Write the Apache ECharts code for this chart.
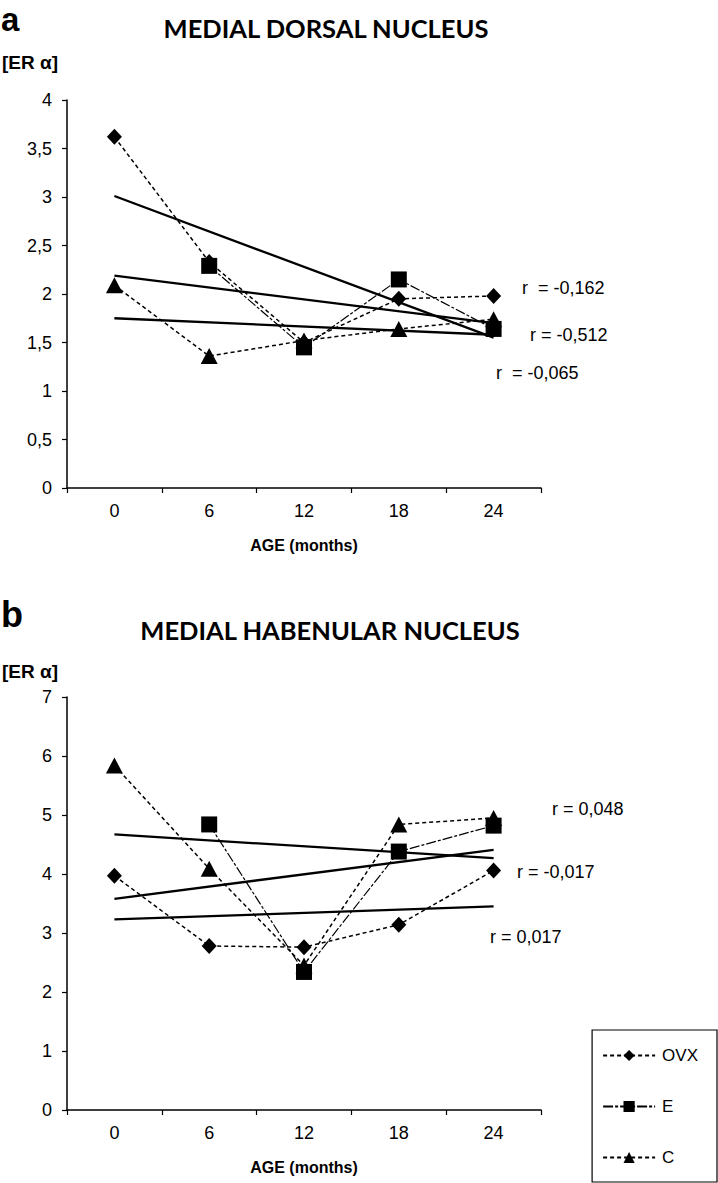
<!DOCTYPE html>
<html>
<head>
<meta charset="utf-8">
<script src="https://cdn.jsdelivr.net/npm/echarts@6/dist/echarts.min.js"></script>
<style>
html,body{margin:0;padding:0;background:#fff;}
#chart{width:718px;height:1183px;}
</style>
</head>
<body>
<div id="chart"></div>
<script>
// ---- data ----
const categories = ['0', '6', '12', '18', '24'];
const seriesNames = ['OVX', 'E', 'C'];

// panel a: medial dorsal nucleus
const dorsalOVX = [3.62, 2.33, 1.50, 1.95, 1.98];
const dorsalE   = [null, 2.29, 1.45, 2.15, 1.64];
const dorsalC   = [2.09, 1.36, 1.52, 1.64, 1.74];
// trend lines (start at 0 months, end at 24 months)
const dorsalTrendOVX = [3.01, null, null, null, 1.55];
const dorsalTrendE   = [2.19, null, null, null, 1.70];
const dorsalTrendC   = [1.75, null, null, null, 1.58];
const dorsalR = ['r  = -0,162', 'r = -0,512', 'r  = -0,065'];
const dorsalYMax = 4, dorsalYStep = 0.5;

// panel b: medial habenular nucleus
const habOVX = [3.97, 2.78, 2.76, 3.14, 4.06];
const habE   = [null, 4.84, 2.34, 4.38, 4.82];
const habC   = [5.84, 4.09, 2.45, 4.84, 4.95];
const habTrendC   = [4.67, null, null, null, 4.27];
const habTrendE   = [3.58, null, null, null, 4.41];
const habTrendOVX = [3.23, null, null, null, 3.45];
const habR = ['r = 0,048', 'r = -0,017', 'r = 0,017'];
const habYMax = 7, habYStep = 1;

const titles = ['MEDIAL DORSAL NUCLEUS', 'MEDIAL HABENULAR NUCLEUS'];
const panelLetters = ['a', 'b'];
const yName = '[ER α]';
const xName = 'AGE (months)';

// ---- styles ----
const SANS = "'Liberation Sans', Arial, sans-serif";
const styles = {
  OVX: { symbol: 'diamond', symbolSize: [15, 16], line: { type: [4, 3], width: 1.5 } },
  E:   { symbol: 'rect', symbolSize: [16, 16], line: { type: [10, 2, 3, 2], width: 1.2 } },
  C:   { symbol: 'triangle', symbolSize: [17, 16], line: { type: [4, 3], width: 1.5 } }
};

function dataSeries(name, data, idx) {
  const s = styles[name];
  return {
    name: name, type: 'line', data: data, xAxisIndex: idx, yAxisIndex: idx,
    symbol: s.symbol, symbolSize: s.symbolSize, showAllSymbol: true,
    itemStyle: { color: '#000' },
    lineStyle: { color: '#000', width: s.line.width, type: s.line.type },
    connectNulls: false, z: 3, silent: true
  };
}
function trendSeries(data, idx) {
  return {
    type: 'line', data: data, xAxisIndex: idx, yAxisIndex: idx,
    symbol: 'none', connectNulls: true,
    lineStyle: { color: '#000', width: 2.3, type: 'solid' },
    z: 2, silent: true
  };
}
function fmt(v) { return String(v).replace('.', ','); }

const xAxisBase = {
  type: 'category', data: categories, boundaryGap: true,
  axisLine: { lineStyle: { color: '#000', width: 1.5 } },
  axisTick: { show: true, length: 5, alignWithLabel: false, lineStyle: { color: '#000', width: 1.2 } },
  axisLabel: { color: '#000', fontSize: 18, fontFamily: SANS, margin: 14 },
  name: xName, nameLocation: 'middle', nameGap: 49,
  nameTextStyle: { color: '#000', fontSize: 16, fontWeight: 'bold', fontFamily: SANS },
  splitLine: { show: false }
};
function yAxisBase(max, step) {
  return {
    type: 'value', min: 0, max: max, interval: step,
    axisLine: { show: true, lineStyle: { color: '#000', width: 1.5 } },
    axisTick: { show: true, length: 5, lineStyle: { color: '#000', width: 1.2 } },
    axisLabel: { color: '#000', fontSize: 18, fontFamily: SANS, margin: 15, formatter: fmt },
    splitLine: { show: false }
  };
}

function txt(text, x, y, font, align, vAlign) {
  return { type: 'text', x: x, y: y, silent: true,
    style: { text: text, font: font, fill: '#000', align: align || 'left', verticalAlign: vAlign || 'middle' } };
}

const graphics = [
  txt(panelLetters[0], 1, 3, "bold 33px " + SANS, 'left', 'top'),
  txt(panelLetters[1], 1, 614, "bold 36px " + SANS),
  txt(titles[0], 326, 28, "bold 25.5px Lato, 'Open Sans', sans-serif", 'center'),
  txt(titles[1], 330, 630, "bold 25.5px Lato, 'Open Sans', sans-serif", 'center'),
  txt(yName, 2, 62, "bold 19px " + SANS),
  txt(yName, 2, 671, "bold 19px " + SANS),
  txt(dorsalR[0], 522, 288, "18px " + SANS),
  txt(dorsalR[1], 530, 335, "18px " + SANS),
  txt(dorsalR[2], 496, 373, "18px " + SANS),
  txt(habR[0], 552, 809, "18px " + SANS),
  txt(habR[1], 517, 872, "18px " + SANS),
  txt(habR[2], 490, 937, "18px " + SANS)
];

const option = {
  animation: false,
  backgroundColor: '#fff',
  grid: [
    { left: 67, top: 100, width: 474, height: 388, containLabel: false },
    { left: 67, top: 697, width: 474, height: 413, containLabel: false }
  ],
  xAxis: [
    Object.assign({ gridIndex: 0 }, xAxisBase),
    Object.assign({ gridIndex: 1 }, xAxisBase)
  ],
  yAxis: [
    Object.assign({ gridIndex: 0 }, yAxisBase(dorsalYMax, dorsalYStep)),
    Object.assign({ gridIndex: 1 }, yAxisBase(habYMax, habYStep))
  ],
  legend: {
    data: seriesNames, orient: 'vertical', right: 1, bottom: 1,
    itemWidth: 52, itemHeight: 14, itemGap: 34,
    padding: [17, 19, 16, 10],
    borderColor: '#000', borderWidth: 1.2, borderRadius: 0,
    selectedMode: false,
    textStyle: { color: '#000', fontSize: 17, lineHeight: 14, fontFamily: SANS, padding: [0, 0, 0, 2] }
  },
  graphic: graphics,
  series: [
    trendSeries(dorsalTrendOVX, 0),
    trendSeries(dorsalTrendE, 0),
    trendSeries(dorsalTrendC, 0),
    dataSeries('OVX', dorsalOVX, 0),
    dataSeries('E', dorsalE, 0),
    dataSeries('C', dorsalC, 0),
    trendSeries(habTrendC, 1),
    trendSeries(habTrendE, 1),
    trendSeries(habTrendOVX, 1),
    dataSeries('OVX', habOVX, 1),
    dataSeries('E', habE, 1),
    dataSeries('C', habC, 1)
  ]
};

const chart = echarts.init(document.getElementById('chart'), null, { renderer: 'svg' });
chart.setOption(option);
</script>
</body>
</html>
